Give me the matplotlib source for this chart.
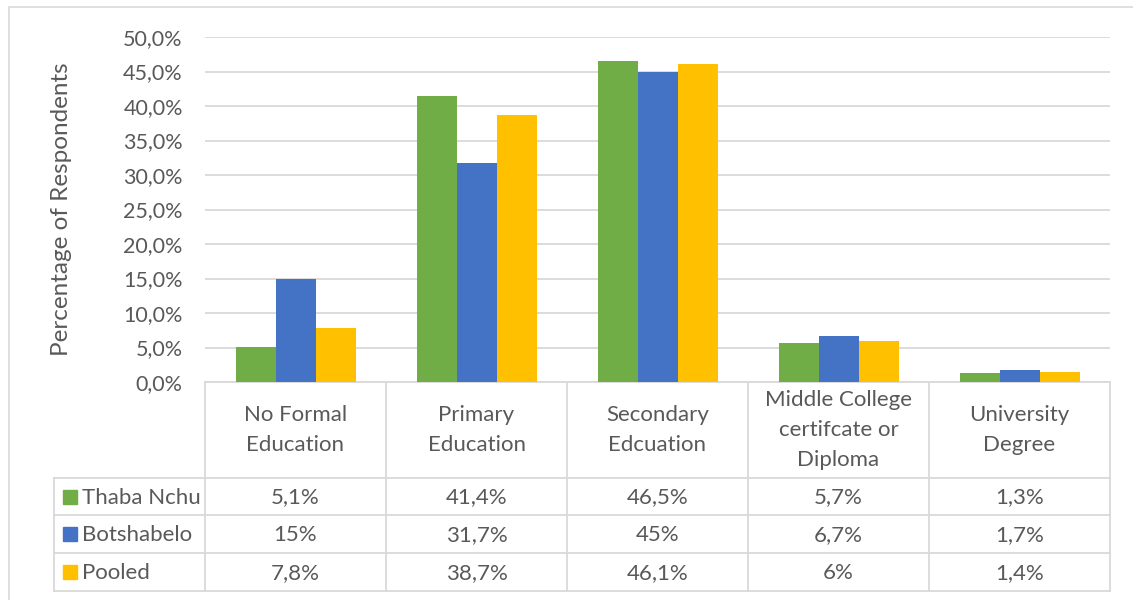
import numpy as np
import matplotlib.pyplot as plt
from matplotlib.lines import Line2D
from matplotlib.patches import Rectangle
from matplotlib.ticker import FuncFormatter

plt.rcParams['font.family'] = ['Lato', 'DejaVu Sans']

categories = ["No Formal\nEducation", "Primary\nEducation", "Secondary\nEdcuation",
              "Middle College\ncertifcate or\nDiploma", "University\nDegree"]
series = ["Thaba Nchu", "Botshabelo", "Pooled"]
thaba_nchu = [5.1, 41.4, 46.5, 5.7, 1.3]
botshabelo = [15.0, 31.7, 45.0, 6.7, 1.7]
pooled = [7.8, 38.7, 46.1, 6.0, 1.4]
table_text = [
    ["5,1%", "41,4%", "46,5%", "5,7%", "1,3%"],
    ["15%", "31,7%", "45%", "6,7%", "1,7%"],
    ["7,8%", "38,7%", "46,1%", "6%", "1,4%"],
]
colors = ["#70AD47", "#4472C4", "#FFC000"]

TXT = "#595959"
GRID = "#D9D9D9"
FS = 16
W, H = 1133, 600

fig = plt.figure(figsize=(W / 100, H / 100), dpi=100)

def fx(px):
    return px / W

def fy(py):
    return 1 - py / H

# outer chart border
fig.add_artist(Rectangle((fx(9), fy(640)), fx(1160 - 9), fy(7) - fy(640),
                         transform=fig.transFigure, fill=False,
                         edgecolor=GRID, lw=1.2))

# plot area
left, right, top, bottom = 205, 1110, 37, 382
ax = fig.add_axes([fx(left), fy(bottom), fx(right - left), fy(top) - fy(bottom)])
x = np.arange(len(categories))
bw = 40 / 181
for k, (vals, c) in enumerate(zip([thaba_nchu, botshabelo, pooled], colors)):
    ax.bar(x + (k - 1) * bw, vals, width=bw, color=c, zorder=3, label=series[k])

ax.set_xlim(-0.5, len(categories) - 0.5)
ax.set_ylim(0, 50)
ax.set_yticks(np.arange(0, 50.1, 5))
ax.yaxis.set_major_formatter(FuncFormatter(lambda v, p: f"{v:.1f}%".replace(".", ",")))
ax.tick_params(axis="y", length=0, pad=16, labelsize=15.5, labelcolor=TXT)
ax.set_xticks([])
ax.grid(axis="y", color=GRID, lw=1.3, zorder=0)
for s in ["top", "right", "left"]:
    ax.spines[s].set_visible(False)
ax.spines["bottom"].set_color(GRID)
ax.spines["bottom"].set_linewidth(1.3)
fig.text(fx(62), fy((top + bottom) / 2), "Percentage of Respondents", rotation=90,
         ha="center", va="center", fontsize=17.5, color=TXT)

# data table below the plot
col_edges = [205, 386, 567, 748, 929, 1110]
row_edges = [478, 515, 553, 591]
label_left = 54

def hline(y, x0, x1):
    fig.add_artist(Line2D([fx(x0), fx(x1)], [fy(y), fy(y)], color=GRID, lw=1.3,
                          transform=fig.transFigure))

def vline(xp, y0, y1):
    fig.add_artist(Line2D([fx(xp), fx(xp)], [fy(y0), fy(y1)], color=GRID, lw=1.3,
                          transform=fig.transFigure))

for xe in col_edges:
    vline(xe, bottom, row_edges[-1])
vline(label_left, row_edges[0], row_edges[-1])
for ye in row_edges:
    hline(ye, label_left, col_edges[-1])

for i, cat in enumerate(categories):
    cx = (col_edges[i] + col_edges[i + 1]) / 2
    fig.text(fx(cx), fy((bottom + row_edges[0]) / 2), cat, ha="center", va="center",
             fontsize=FS, color=TXT, linespacing=1.6)

for r in range(3):
    cy = (row_edges[r] + row_edges[r + 1]) / 2
    fig.add_artist(Rectangle((fx(63), fy(cy + 7)), fx(14), fy(cy - 7) - fy(cy + 7),
                             transform=fig.transFigure, color=colors[r]))
    fig.text(fx(82), fy(cy + 1), series[r], ha="left", va="center", fontsize=FS, color=TXT)
    for i in range(len(categories)):
        cx = (col_edges[i] + col_edges[i + 1]) / 2
        fig.text(fx(cx), fy(cy + 1), table_text[r][i], ha="center", va="center",
                 fontsize=FS, color=TXT)

fig.savefig("out.png", dpi=100)
